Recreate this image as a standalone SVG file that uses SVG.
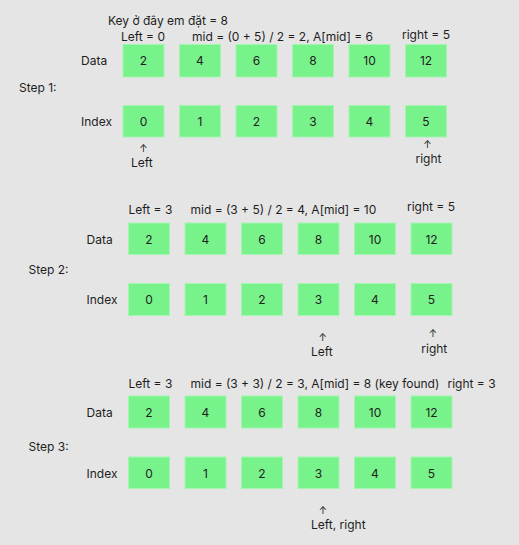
<svg xmlns="http://www.w3.org/2000/svg" width="519" height="545" viewBox="0 0 519 545">
<style>
text{font-family:Inter,"Noto Sans","Liberation Sans",sans-serif;font-size:12px;fill:#1e1e1e}
.c{text-anchor:middle}
.b{fill:#78f28b;stroke:#a3f5b0;stroke-width:1}
.ar{font-size:10px;text-anchor:middle}
</style>
<rect width="519" height="545" fill="#e5e5e5"/>
<g id="step1">
<text x="108" y="25">Key ở đây em đặt = 8</text>
<text x="121" y="41">Left = 0</text>
<text x="192" y="41">mid = (0 + 5) / 2 = 2, A[mid] = 6</text>
<text x="402" y="39">right = 5</text>
<text x="81" y="65">Data</text>
<text x="19" y="92">Step 1:</text>
<text x="81" y="126">Index</text>
<g id="s1d0"><rect class="b" x="123" y="44.5" width="41" height="32.5"/><text class="c" x="143.5" y="65">2</text></g>
<g id="s1d1"><rect class="b" x="179.5" y="44.5" width="41" height="32.5"/><text class="c" x="200" y="65">4</text></g>
<g id="s1d2"><rect class="b" x="236" y="44.5" width="41" height="32.5"/><text class="c" x="256.5" y="65">6</text></g>
<g id="s1d3"><rect class="b" x="292.5" y="44.5" width="41" height="32.5"/><text class="c" x="313" y="65">8</text></g>
<g id="s1d4"><rect class="b" x="349" y="44.5" width="41" height="32.5"/><text class="c" x="369.5" y="65">10</text></g>
<g id="s1d5"><rect class="b" x="405.5" y="44.5" width="41" height="32.5"/><text class="c" x="426" y="65">12</text></g>
<g id="s1i0"><rect class="b" x="123" y="105.5" width="41" height="31.5"/><text class="c" x="143.5" y="125.5">0</text></g>
<g id="s1i1"><rect class="b" x="179.5" y="105.5" width="41" height="31.5"/><text class="c" x="200" y="125.5">1</text></g>
<g id="s1i2"><rect class="b" x="236" y="105.5" width="41" height="31.5"/><text class="c" x="256.5" y="125.5">2</text></g>
<g id="s1i3"><rect class="b" x="292.5" y="105.5" width="41" height="31.5"/><text class="c" x="313" y="125.5">3</text></g>
<g id="s1i4"><rect class="b" x="349" y="105.5" width="41" height="31.5"/><text class="c" x="369.5" y="125.5">4</text></g>
<g id="s1i5"><rect class="b" x="405.5" y="105.5" width="41" height="31.5"/><text class="c" x="426" y="125.5">5</text></g>
<text class="ar" x="143.3" y="152">↑</text>
<text x="131" y="166.5">Left</text>
<text class="ar" x="427.3" y="148">↑</text>
<text x="415.5" y="163">right</text>
</g>
<g id="step2">
<text x="128.5" y="214">Left = 3</text>
<text x="190.5" y="214">mid = (3 + 5) / 2 = 4, A[mid] = 10</text>
<text x="407" y="211">right = 5</text>
<text x="86.5" y="243.5">Data</text>
<text x="28.5" y="274">Step 2:</text>
<text x="86.5" y="304">Index</text>
<g id="s2d0"><rect class="b" x="128.5" y="223" width="41" height="31.5"/><text class="c" x="149" y="243.5">2</text></g>
<g id="s2d1"><rect class="b" x="185" y="223" width="41" height="31.5"/><text class="c" x="205.5" y="243.5">4</text></g>
<g id="s2d2"><rect class="b" x="241.5" y="223" width="41" height="31.5"/><text class="c" x="262" y="243.5">6</text></g>
<g id="s2d3"><rect class="b" x="298" y="223" width="41" height="31.5"/><text class="c" x="318.5" y="243.5">8</text></g>
<g id="s2d4"><rect class="b" x="354.5" y="223" width="41" height="31.5"/><text class="c" x="375" y="243.5">10</text></g>
<g id="s2d5"><rect class="b" x="411" y="223" width="41" height="31.5"/><text class="c" x="431.5" y="243.5">12</text></g>
<g id="s2i0"><rect class="b" x="128.5" y="283.5" width="41" height="32"/><text class="c" x="149" y="304">0</text></g>
<g id="s2i1"><rect class="b" x="185" y="283.5" width="41" height="32"/><text class="c" x="205.5" y="304">1</text></g>
<g id="s2i2"><rect class="b" x="241.5" y="283.5" width="41" height="32"/><text class="c" x="262" y="304">2</text></g>
<g id="s2i3"><rect class="b" x="298" y="283.5" width="41" height="32"/><text class="c" x="318.5" y="304">3</text></g>
<g id="s2i4"><rect class="b" x="354.5" y="283.5" width="41" height="32"/><text class="c" x="375" y="304">4</text></g>
<g id="s2i5"><rect class="b" x="411" y="283.5" width="41" height="32"/><text class="c" x="431.5" y="304">5</text></g>
<text class="ar" x="322.7" y="341">↑</text>
<text x="311" y="356">Left</text>
<text class="ar" x="433" y="337">↑</text>
<text x="421.3" y="352.5">right</text>
</g>
<g id="step3">
<text x="128.5" y="388">Left = 3</text>
<text x="190.5" y="388">mid = (3 + 3) / 2 = 3, A[mid] = 8 (key found)</text>
<text x="447.5" y="388">right = 3</text>
<text x="86.5" y="417">Data</text>
<text x="28.5" y="451">Step 3:</text>
<text x="86.5" y="477.5">Index</text>
<g id="s3d0"><rect class="b" x="128.5" y="396" width="41" height="32"/><text class="c" x="149" y="416.5">2</text></g>
<g id="s3d1"><rect class="b" x="185" y="396" width="41" height="32"/><text class="c" x="205.5" y="416.5">4</text></g>
<g id="s3d2"><rect class="b" x="241.5" y="396" width="41" height="32"/><text class="c" x="262" y="416.5">6</text></g>
<g id="s3d3"><rect class="b" x="298" y="396" width="41" height="32"/><text class="c" x="318.5" y="416.5">8</text></g>
<g id="s3d4"><rect class="b" x="354.5" y="396" width="41" height="32"/><text class="c" x="375" y="416.5">10</text></g>
<g id="s3d5"><rect class="b" x="411" y="396" width="41" height="32"/><text class="c" x="431.5" y="416.5">12</text></g>
<g id="s3i0"><rect class="b" x="128.5" y="457" width="41" height="31.5"/><text class="c" x="149" y="477.5">0</text></g>
<g id="s3i1"><rect class="b" x="185" y="457" width="41" height="31.5"/><text class="c" x="205.5" y="477.5">1</text></g>
<g id="s3i2"><rect class="b" x="241.5" y="457" width="41" height="31.5"/><text class="c" x="262" y="477.5">2</text></g>
<g id="s3i3"><rect class="b" x="298" y="457" width="41" height="31.5"/><text class="c" x="318.5" y="477.5">3</text></g>
<g id="s3i4"><rect class="b" x="354.5" y="457" width="41" height="31.5"/><text class="c" x="375" y="477.5">4</text></g>
<g id="s3i5"><rect class="b" x="411" y="457" width="41" height="31.5"/><text class="c" x="431.5" y="477.5">5</text></g>
<text class="ar" x="323" y="514">↑</text>
<text x="311" y="529">Left, right</text>
</g>
</svg>
